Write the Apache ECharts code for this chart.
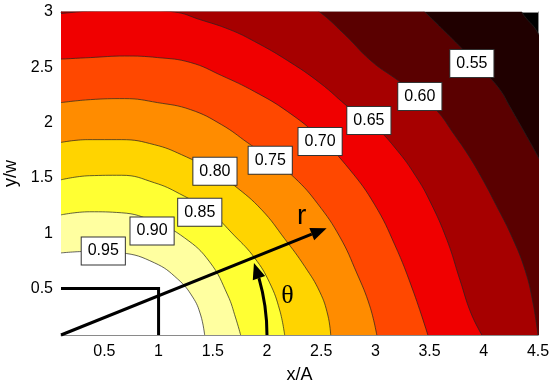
<!DOCTYPE html>
<html>
<head>
<meta charset="utf-8">
<script src="https://cdn.jsdelivr.net/npm/echarts@6/dist/echarts.min.js"></script>
<style>
  html, body { margin: 0; padding: 0; background: #fff; }
  #chart { width: 550px; height: 389px; }
</style>
</head>
<body>
<div id="chart"></div>
<script>
// contour lines, points are [x/A, y/w]
const c50 = [[0.1, 4.6], [3.0, 4.3], [3.9, 3.8], [4.2, 3.3], [4.35, 3.0], [4.5, 2.81], [4.8, 2.2], [5.1, 0.08]]
const c55 = [[0.1, 3.837], [2.302, 3.656], [3.226, 3.204], [3.456, 3.0], [3.641, 2.823], [3.826, 2.642],
  [4.010, 2.452], [4.149, 2.298], [4.241, 2.144], [4.398, 1.873], [4.5, 1.692], [4.703, 1.302],
  [4.888, 0.85], [5.07, 0.08]]
const c60 = [[0.1, 3.385], [1.84, 3.294], [2.302, 3.113], [2.487, 3.0], [2.717, 2.796], [2.967, 2.552],
  [3.198, 2.389], [3.41, 2.235], [3.567, 2.108], [3.715, 1.909], [3.872, 1.683], [4.001, 1.465],
  [4.103, 1.275], [4.26, 0.967], [4.38, 0.669], [4.454, 0.37], [4.5, 0.08]]
const c65 = [[0.1, 2.986], [0.455, 3.013], [0.825, 3.018], [1.148, 3.0], [1.379, 2.932], [1.656, 2.841],
  [1.886, 2.733], [2.191, 2.56], [2.487, 2.36], [2.764, 2.13], [3.0, 1.96], [3.2, 1.75], [3.37, 1.52],
  [3.503, 1.29], [3.66, 0.94], [3.78, 0.578], [3.881, 0.279], [3.982, 0.08]]
const c70 = [[0.1, 2.574], [0.372, 2.588], [0.686, 2.602], [0.991, 2.588], [1.296, 2.543], [1.582, 2.425],
  [1.886, 2.28], [2.191, 2.099], [2.487, 1.864], [2.764, 1.574], [2.994, 1.257], [3.179, 0.895],
  [3.345, 0.487], [3.484, 0.08]]
const c75 = [[0.1, 2.181], [0.372, 2.208], [0.686, 2.217], [0.991, 2.181], [1.296, 2.117], [1.582, 1.981],
  [1.822, 1.818], [2.043, 1.664], [2.256, 1.5], [2.468, 1.266], [2.672, 0.967], [2.828, 0.641],
  [2.948, 0.343], [3.013, 0.08]]
const c80 = [[0.1, 1.821], [0.344, 1.846], [0.658, 1.846], [0.963, 1.8], [1.212, 1.71], [1.517, 1.556],
  [1.702, 1.429], [1.951, 1.212], [2.163, 0.95], [2.348, 0.7], [2.487, 0.47], [2.561, 0.261],
  [2.588, 0.08]]
const c85 = [[0.1, 1.483], [0.363, 1.52], [0.658, 1.524], [0.963, 1.456], [1.194, 1.357], [1.471, 1.194],
  [1.702, 0.976], [1.886, 0.777], [2.025, 0.551], [2.117, 0.306], [2.163, 0.08]]
const c90 = [[0.1, 1.166], [0.363, 1.194], [0.658, 1.185], [0.963, 1.103], [1.24, 0.958], [1.471, 0.741],
  [1.637, 0.442], [1.711, 0.234], [1.757, 0.08]]
const c95 = [[0.1, 0.822], [0.363, 0.836], [0.658, 0.822], [0.963, 0.732], [1.175, 0.587], [1.314, 0.424],
  [1.388, 0.261], [1.425, 0.08]]

const contours = [c50, c55, c60, c65, c70, c75, c80, c85, c90, c95]

// colour of the band just inside each contour (hot map)
const bandColors = ['#200000', '#5a0000', '#a60000', '#f00000', '#ff4800', '#ff8c00',
  '#ffd400', '#ffff33', '#ffffa0', '#ffffff']
const outsideColor = '#000000'

// inline contour labels
const labelText = ['0.55', '0.60', '0.65', '0.70', '0.75', '0.80', '0.85', '0.90', '0.95']
const labelPos = [[3.89, 2.534], [3.41, 2.235], [2.94, 2.02], [2.49, 1.83], [2.03, 1.66],
  [1.52, 1.56], [1.38, 1.19], [0.94, 1.02], [0.49, 0.84]]

const xTicks = [0.5, 1, 1.5, 2, 2.5, 3, 3.5, 4, 4.5]
const yTicks = [0.5, 1, 1.5, 2, 2.5, 3]

// sketch on top: box, r arrow, theta arc
const origin = [0.1, 0.08]
const boxCorner = [1, 0.5]
const rTip = [2.55, 1.046]
const arcStart = [2.0, 0.08]
const rTextPos = [2.32, 1.15]
const thetaTextPos = [2.19, 0.433]

const font = 'Liberation Sans, Arial, sans-serif'
const chart = echarts.init(document.getElementById('chart'), null, { renderer: 'canvas' })

const frameAxis = (extra) => Object.assign({
  type: 'value',
  splitLine: { show: false },
  axisLine: { show: true, onZero: false, lineStyle: { color: '#8a8a8a', width: 1 } }
}, extra)

const tick = (vals) => ({ show: true, inside: true, length: 5, customValues: vals, lineStyle: { color: '#8a8a8a' } })

function renderNotes(params, api) {
  const o = api.coord(origin)
  const c = api.coord(boxCorner)
  const t = api.coord(rTip)
  const s = api.coord(arcStart)
  const head = 16
  const half = 6.5
  const stroke = { stroke: '#000', lineWidth: 3, fill: null }

  // r arrow
  const len = Math.hypot(t[0] - o[0], t[1] - o[1])
  const ux = (t[0] - o[0]) / len
  const uy = (t[1] - o[1]) / len
  const bx = t[0] - ux * head
  const by = t[1] - uy * head

  // theta arc, circle round the origin
  const R = s[0] - o[0]
  const phiTip = Math.atan2(o[1] - t[1], t[0] - o[0]) - 0.025
  const phiBase = phiTip - head / R
  const tip = [o[0] + R * Math.cos(phiTip), o[1] - R * Math.sin(phiTip)]
  const base = [o[0] + R * Math.cos(phiBase), o[1] - R * Math.sin(phiBase)]
  const dl = Math.hypot(tip[0] - base[0], tip[1] - base[1])
  const vx = (tip[0] - base[0]) / dl
  const vy = (tip[1] - base[1]) / dl

  const rt = api.coord(rTextPos)
  const tt = api.coord(thetaTextPos)

  return {
    type: 'group',
    children: [
      { type: 'polyline', shape: { points: [[o[0], c[1]], [c[0], c[1]], [c[0], o[1]]] }, style: stroke },
      { type: 'line', shape: { x1: o[0], y1: o[1], x2: bx, y2: by }, style: stroke },
      { type: 'polygon', shape: { points: [t, [bx - uy * half, by + ux * half], [bx + uy * half, by - ux * half]] },
        style: { fill: '#000' } },
      { type: 'arc', shape: { cx: o[0], cy: o[1], r: R, startAngle: 0, endAngle: -phiBase, clockwise: false },
        style: stroke },
      { type: 'polygon', shape: { points: [tip, [base[0] - vy * half, base[1] + vx * half], [base[0] + vy * half, base[1] - vx * half]] },
        style: { fill: '#000' } },
      { type: 'text', x: rt[0], y: rt[1],
        style: { text: 'r', fontSize: 28, fontFamily: font, fill: '#000', align: 'center', verticalAlign: 'middle' } },
      { type: 'text', x: tt[0], y: tt[1],
        style: { text: 'θ', fontSize: 26, fontFamily: 'Liberation Serif, DejaVu Serif, serif', fill: '#000', align: 'center', verticalAlign: 'middle' } }
    ]
  }
}

const contourSeries = contours.map((pts, i) => ({
  type: 'line',
  data: pts,
  smooth: 0.45,
  showSymbol: false,
  symbol: 'none',
  silent: true,
  lineStyle: { color: '#222', width: 0.7 },
  areaStyle: { color: bandColors[i], opacity: 1, origin: 'start' },
  z: 2
}))

chart.setOption({
  animation: false,
  backgroundColor: '#fff',
  grid: {
    left: 61, right: 12, top: 12, bottom: 54,
    show: true, backgroundColor: outsideColor, borderWidth: 0,
    outerBoundsMode: 'none'
  },
  xAxis: [
    frameAxis({
      min: 0.1, max: 4.5, position: 'bottom',
      axisTick: tick(xTicks),
      axisLabel: { customValues: xTicks, formatter: (v) => String(v), fontSize: 16, color: '#000', fontFamily: font, margin: 9 },
      name: 'x/A', nameLocation: 'middle', nameGap: 31,
      nameTextStyle: { fontSize: 18, color: '#000', fontFamily: font }
    }),
    frameAxis({ min: 0.1, max: 4.5, position: 'top', axisTick: tick(xTicks), axisLabel: { show: false } })
  ],
  yAxis: [
    frameAxis({
      min: 0.08, max: 3, position: 'left',
      axisTick: tick(yTicks),
      axisLabel: { customValues: yTicks, formatter: (v) => String(v), fontSize: 16, color: '#000', fontFamily: font, margin: 8 },
      name: 'y/w', nameLocation: 'middle', nameGap: 31,
      nameTextStyle: { fontSize: 18, color: '#000', fontFamily: font }
    }),
    frameAxis({ min: 0.08, max: 3, position: 'right', axisTick: tick(yTicks), axisLabel: { show: false } })
  ],
  series: [
    ...contourSeries,
    {
      type: 'custom',
      silent: true,
      data: [origin],
      renderItem: renderNotes,
      z: 5
    },
    {
      type: 'scatter',
      silent: true,
      symbolSize: 0,
      itemStyle: { opacity: 1 },
      data: labelPos.map((p, i) => ({ value: p, name: labelText[i] })),
      label: {
        show: true, position: 'inside', formatter: '{b}',
        fontSize: 16, color: '#000', fontFamily: font,
        backgroundColor: '#fff', borderColor: '#333', borderWidth: 1,
        padding: [6, 6, 5, 6]
      },
      z: 8
    }
  ]
})
</script>
</body>
</html>
